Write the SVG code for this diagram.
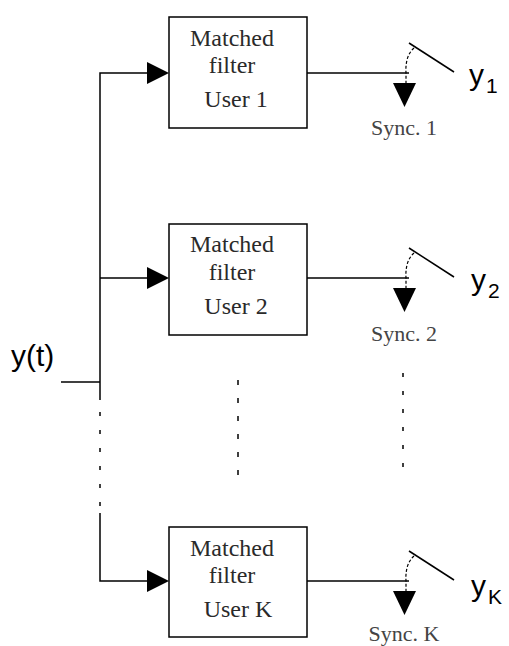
<svg xmlns="http://www.w3.org/2000/svg" width="509" height="646" viewBox="0 0 509 646">
  <style>
    .box { fill: #ffffff; stroke: #000; stroke-width: 1.5; }
    .wire { fill: none; stroke: #000; stroke-width: 1.5; }
    .dots { fill: none; stroke: #000; stroke-width: 1.5; }
    .arc { fill: none; stroke: #000; stroke-width: 1.2; stroke-dasharray: 3 2; }
    .head { fill: #000; stroke: none; }
    .btxt { font-family: "Liberation Serif", "Times New Roman", serif; font-size: 24px; fill: #2a2a2a; text-anchor: middle; }
    .stxt { font-family: "Liberation Serif", "Times New Roman", serif; font-size: 22px; fill: #444; text-anchor: middle; }
    .lbl { font-family: "Liberation Sans", Arial, sans-serif; font-size: 30px; fill: #000; }
    .sub { font-family: "Liberation Sans", Arial, sans-serif; font-size: 21px; fill: #000; }
  </style>
  <rect x="0" y="0" width="509" height="646" fill="#ffffff"/>

  <g id="connectors">
    <path class="wire" d="M61 382 H100"/>
    <path class="wire" d="M100 400 V73 H147"/>
    <path class="wire" d="M100 278 H147"/>
    <path class="dots" d="M100 412 V507" stroke-dasharray="4 14"/>
    <path class="wire" d="M100 513 V581 H147"/>
    <polygon class="head" points="147,62 147,84 169,73"/>
    <polygon class="head" points="147,267 147,289 169,278"/>
    <polygon class="head" points="147,570 147,592 169,581"/>
    <path class="wire" d="M307 73 H409"/>
    <path class="wire" d="M307 278 H409"/>
    <path class="wire" d="M307 581 H409"/>
    <path class="dots" d="M238 380 V475" stroke-dasharray="5 13"/>
    <path class="dots" d="M403 373 V468" stroke-dasharray="4 14"/>
  </g>

  <g id="filter1">
    <rect class="box" x="169" y="17" width="138" height="111"/>
    <text class="btxt" x="232" y="46">Matched</text>
    <text class="btxt" x="232" y="73">filter</text>
    <text class="btxt" x="236" y="107">User 1</text>
  </g>
  <g id="filter2">
    <rect class="box" x="169" y="224" width="138" height="111"/>
    <text class="btxt" x="232" y="252">Matched</text>
    <text class="btxt" x="232" y="280">filter</text>
    <text class="btxt" x="236" y="314">User 2</text>
  </g>
  <g id="filterK">
    <rect class="box" x="169" y="527" width="138" height="110"/>
    <text class="btxt" x="232" y="556">Matched</text>
    <text class="btxt" x="232" y="583">filter</text>
    <text class="btxt" x="238" y="617">User K</text>
  </g>

  <g id="switch1">
    <path class="wire" d="M409 43 L454 72"/>
    <path class="arc" d="M414 48 Q405 56 406 73 V84"/>
    <polygon class="head" points="393,83 416,83 404.5,107"/>
    <text class="stxt" x="404" y="135">Sync. 1</text>
  </g>
  <g id="switch2">
    <path class="wire" d="M409 248 L454 277"/>
    <path class="arc" d="M414 253 Q405 261 406 278 V289"/>
    <polygon class="head" points="393,288 416,288 404.5,312"/>
    <text class="stxt" x="404" y="341">Sync. 2</text>
  </g>
  <g id="switchK">
    <path class="wire" d="M409 551 L454 580"/>
    <path class="arc" d="M414 556 Q405 564 406 581 V592"/>
    <polygon class="head" points="393,591 416,591 404.5,615"/>
    <text class="stxt" x="404" y="641">Sync. K</text>
  </g>

  <g id="input-label">
    <text class="lbl" x="11" y="366">y(t)</text>
  </g>
  <g id="out1">
    <text class="lbl" x="469" y="85">y</text>
    <text class="sub" x="486" y="93">1</text>
  </g>
  <g id="out2">
    <text class="lbl" x="471" y="290">y</text>
    <text class="sub" x="488" y="298">2</text>
  </g>
  <g id="outK">
    <text class="lbl" x="471" y="596">y</text>
    <text class="sub" x="488" y="604">K</text>
  </g>
</svg>
